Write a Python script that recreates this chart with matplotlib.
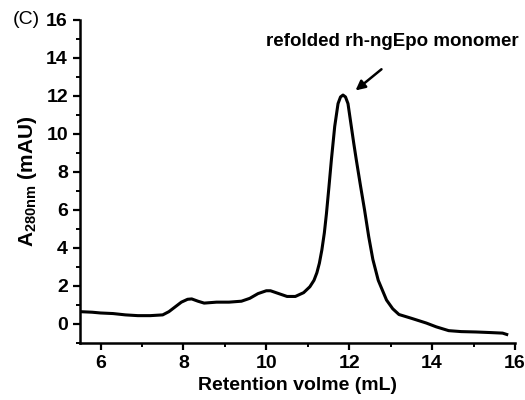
import matplotlib
matplotlib.use("Agg")
import matplotlib.pyplot as plt
from matplotlib.ticker import MultipleLocator

plt.rcParams["font.family"] = ["Liberation Sans", "DejaVu Sans"]
plt.rcParams["mathtext.fontset"] = "custom"
plt.rcParams["mathtext.rm"] = "Liberation Sans:bold"

# Chromatogram
volume = [5.5, 5.8, 6.0, 6.3, 6.6, 6.9, 7.2, 7.5, 7.65, 7.8, 7.95, 8.1, 8.2,
          8.35, 8.5, 8.8, 9.1, 9.4, 9.6, 9.8, 10.0, 10.1, 10.3, 10.5, 10.7,
          10.9, 11.05, 11.15, 11.22, 11.28, 11.34, 11.4, 11.45, 11.51, 11.57,
          11.65, 11.73, 11.79, 11.85, 11.91, 11.97, 12.05, 12.11, 12.17, 12.27,
          12.37, 12.47, 12.57, 12.7, 12.9, 13.05, 13.2, 13.5, 13.86, 14.1,
          14.4, 14.7, 15.06, 15.4, 15.7, 15.8]
absorbance = [0.65, 0.62, 0.58, 0.55, 0.48, 0.44, 0.44, 0.48, 0.65, 0.9, 1.15,
              1.3, 1.32, 1.2, 1.1, 1.15, 1.15, 1.2, 1.35, 1.6, 1.75, 1.75, 1.6,
              1.45, 1.45, 1.65, 1.96, 2.3, 2.7, 3.2, 3.9, 4.8, 5.8, 7.2, 8.65,
              10.4, 11.6, 11.95, 12.05, 11.95, 11.6, 10.4, 9.5, 8.65, 7.3,
              6.0, 4.6, 3.4, 2.3, 1.26, 0.8, 0.5, 0.3, 0.05, -0.15, -0.35,
              -0.4, -0.42, -0.45, -0.48, -0.55]

fig = plt.figure(figsize=(5.25, 4), dpi=100)
ax = fig.add_axes([0.152, 0.1425, 0.829, 0.8075])
ax.plot(volume, absorbance, color="black", lw=2.2)

ax.set_xlim(5.5, 16)
ax.set_ylim(-1, 16)
ax.xaxis.set_major_locator(MultipleLocator(2))
ax.xaxis.set_minor_locator(MultipleLocator(1))
ax.yaxis.set_major_locator(MultipleLocator(2))
ax.yaxis.set_minor_locator(MultipleLocator(1))
for s in ["top", "right"]:
    ax.spines[s].set_visible(False)
for s in ["left", "bottom"]:
    ax.spines[s].set_linewidth(1.8)
ax.tick_params(which="major", direction="out", length=5, width=1.6,
               labelsize=14)
ax.tick_params(which="minor", direction="out", length=3, width=1.4)
for lbl in ax.get_xticklabels() + ax.get_yticklabels():
    lbl.set_fontweight("bold")

ax.set_xlabel("Retention volme (mL)", fontsize=14, fontweight="bold", labelpad=4)
ax.set_ylabel(r"A$_{\mathrm{280nm}}$ (mAU)", fontsize=15, fontweight="bold",
              labelpad=5)

ax.annotate("", xy=(12.1, 12.2), xytext=(12.83, 13.5),
            arrowprops=dict(arrowstyle="-|>", color="black", lw=1.8,
                            mutation_scale=14))
ax.text(13.05, 14.85, "refolded rh-ngEpo monomer", ha="center", va="center",
        fontsize=13.5, fontweight="bold")

fig.text(0.024, 0.95, "(C)", fontsize=14, va="center")

fig.savefig("out.png", dpi=100)
